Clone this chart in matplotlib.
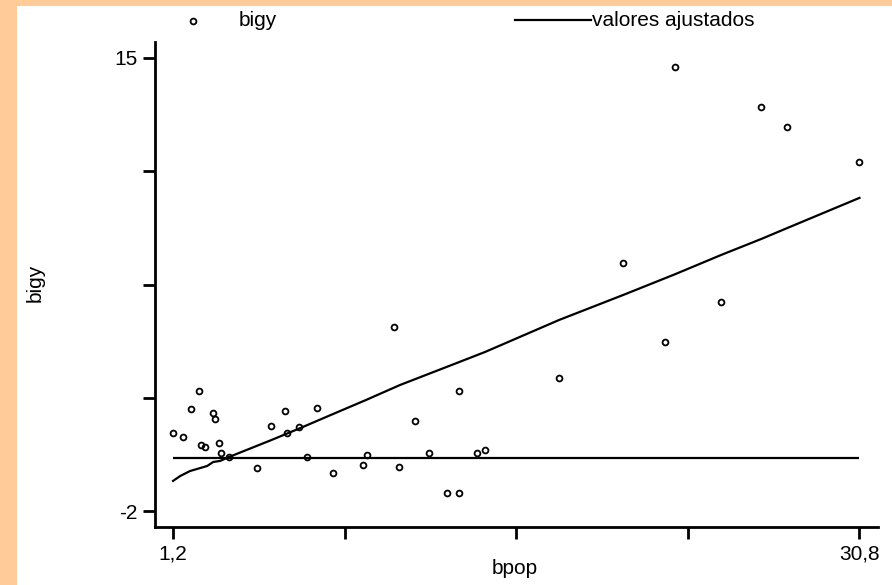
import numpy as np
import matplotlib.pyplot as plt
from matplotlib.lines import Line2D
from matplotlib.patches import Rectangle

plt.rcParams['font.family'] = ['Liberation Sans', 'DejaVu Sans']

# observed values (bpop, bigy)
bpop = [1.2, 1.62, 1.96, 2.32, 2.40, 2.58, 2.93, 3.01, 3.18, 3.27, 3.62,
        4.81, 5.43, 6.03, 6.12, 6.64, 6.98, 7.41, 8.10, 9.39, 9.56, 10.74,
        10.94, 11.64, 12.25, 13.02, 13.54, 13.54, 14.32, 14.66, 17.85, 20.62,
        22.43, 22.86, 24.84, 26.57, 27.69, 30.8]
bigy = [0.94, 0.79, 1.83, 2.50, 0.49, 0.40, 1.68, 1.45, 0.56, 0.19, 0.03,
        -0.39, 1.19, 1.75, 0.94, 1.16, 0.03, 1.88, -0.57, -0.27, 0.10, 4.92,
        -0.34, 1.38, 0.18, -1.31, 2.51, -1.31, 0.18, 0.30, 2.99, 7.31,
        4.34, 14.67, 5.84, 13.16, 12.41, 11.10]

# fitted values
fit_x = [1.2, 1.50, 1.93, 2.36, 2.67, 2.93, 3.23, 3.62, 5.43, 6.68, 8.10,
         9.53, 10.99, 13.54, 14.66, 17.85, 20.62, 22.86, 24.84, 26.57, 27.69, 30.8]
fit_y = [-0.87, -0.69, -0.50, -0.39, -0.31, -0.16, -0.12, 0.03, 0.66, 1.11, 1.64,
         2.17, 2.73, 3.59, 3.97, 5.17, 6.11, 6.89, 7.61, 8.21, 8.62, 9.75]
base_y = 0.0

yticks = [15, 10.75, 6.5, 2.25, -2]
ytick_labels = ['15', '', '', '', '-2']
xticks = [1.2, 8.6, 16.0, 23.4, 30.8]
xtick_labels = ['1,2', '', '', '', '30,8']

FS = 15

fig = plt.figure(figsize=(8.92, 5.85), dpi=100)
fig.patch.set_facecolor('#FFCC99')
fig.add_artist(Rectangle((17 / 892, 0), 1, 1 - 6 / 585, transform=fig.transFigure,
                         facecolor='white', edgecolor='none', zorder=0))

ax = fig.add_axes([155 / 892, 58 / 585, 723 / 892, 485 / 585])
ax.set_facecolor('white')

ax.plot(bpop, bigy, 'o', ms=4.2, mfc='none', mec='black', mew=1.3, zorder=3)
ax.plot(fit_x, fit_y, color='black', lw=1.6)
ax.hlines(base_y, min(bpop), max(bpop), color='black', lw=1.6)

ax.set_xlim(0.42, 31.6)
ax.set_ylim(-2.6, 15.6)
ax.set_xticks(xticks)
ax.set_xticklabels(xtick_labels)
ax.set_yticks(yticks)
ax.set_yticklabels(ytick_labels)

for s in ['top', 'right']:
    ax.spines[s].set_visible(False)
for s in ['left', 'bottom']:
    ax.spines[s].set_linewidth(2)
ax.tick_params(direction='out', length=8.5, width=2, labelsize=FS, pad=4)

ax.set_xlabel('bpop', fontsize=FS)
ax.set_ylabel('bigy', fontsize=FS)
ax.xaxis.set_label_coords(0.498, -0.066)
ax.yaxis.set_label_coords(-0.152, 0.503)

# legend along the top
fig.add_artist(Line2D([193 / 892], [1 - 21 / 585], marker='o', ms=4.2, mfc='none',
                      mec='black', mew=1.3, transform=fig.transFigure))
fig.text(239 / 892, 1 - 20 / 585, 'bigy', fontsize=FS, va='center')
fig.add_artist(Line2D([515 / 892, 591 / 892], [1 - 20 / 585, 1 - 20 / 585],
                      color='black', lw=1.6, transform=fig.transFigure))
fig.text(592 / 892, 1 - 20 / 585, 'valores ajustados', fontsize=FS, va='center')

fig.savefig('out.png', dpi=100, facecolor=fig.get_facecolor())
